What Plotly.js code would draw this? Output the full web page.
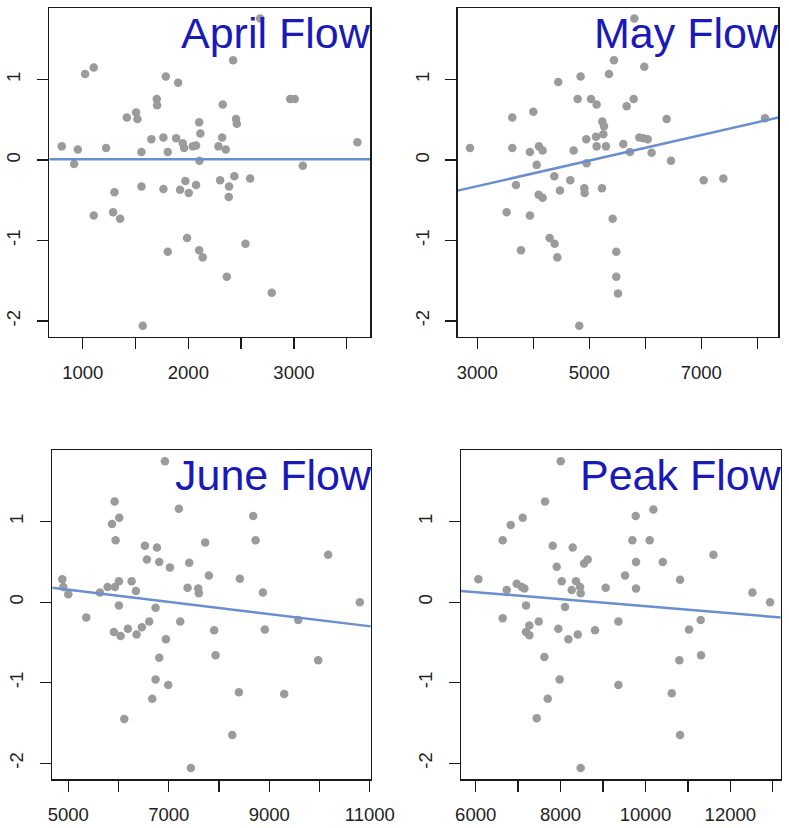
<!DOCTYPE html>
<html>
<head>
<meta charset="utf-8">
<script src="https://cdn.plot.ly/plotly-3.0.1.min.js"></script>
<style>
  html, body { margin: 0; padding: 0; background: #ffffff; }
  #chart { width: 789px; height: 828px; }
</style>
</head>
<body>
<div id="chart"></div>
<script>
// Standardised response against four flow measures (one point per year)

const aprilX = [801, 953, 918, 1022, 1104, 1221, 1104, 1300, 1287, 1354, 1417, 1505, 1518, 1556, 1556, 1568,
  1650, 1701, 1704, 1764, 1764, 1786, 1805, 1805, 1903, 1884, 1922, 1947, 1972, 1960, 2004, 1988, 2042, 2073,
  2073, 2102, 2114, 2105, 2102, 2136, 2326, 2320, 2285, 2354, 2301, 2386, 2383, 2364, 2424, 2452, 2459, 2436,
  2585, 2541, 2790, 2964, 3008, 3084, 3601, 2680];
const aprilY = [0.17, 0.13, -0.05, 1.07, 1.15, 0.15, -0.69, -0.40, -0.65, -0.73, 0.53, 0.59, 0.51, 0.10, -0.33, -2.06,
  0.26, 0.76, 0.68, 0.28, -0.36, 1.04, 0.10, -1.14, 0.96, 0.27, -0.37, 0.21, -0.26, 0.15, -0.41, -0.97, 0.17, 0.18,
  -0.31, 0.47, 0.33, -0.01, -1.12, -1.21, 0.69, 0.28, 0.17, 0.13, -0.25, -0.33, -0.46, -1.45, 1.24, 0.51, 0.45, -0.20,
  -0.23, -1.04, -1.65, 0.76, 0.76, -0.07, 0.22, 1.76];

const mayX = [2869, 3625, 3625, 3690, 3524, 3780, 3940, 3940, 4000, 4060, 4101, 4167, 4095, 4167, 4292, 4381, 4429,
  4375, 4446, 4476, 4661, 4720, 4792, 4845, 4821, 4911, 4917, 4946, 4952, 5030, 5131, 5119, 5131, 5232, 5262, 5250,
  5298, 5226, 5351, 5440, 5417, 5482, 5482, 5512, 5607, 5667, 5792, 5804, 5726, 5893, 5964, 6042, 5982, 6113, 6381,
  6458, 7042, 7393, 8137];
const mayY = [0.15, 0.53, 0.15, -0.31, -0.65, -1.12, -0.69, 0.10, 0.60, -0.06, 0.17, 0.12, -0.43, -0.47, -0.97, -1.04,
  -1.21, -0.20, 0.97, -0.38, -0.25, 0.12, 0.76, 1.04, -2.06, -0.35, -0.41, 0.26, -0.04, 0.76, 0.69, 0.29, 0.17, 0.48,
  0.42, 0.32, 0.17, -0.35, 1.07, 1.24, -0.73, -1.14, -1.45, -1.66, 0.20, 0.67, 0.76, 1.76, 0.10, 0.28, 0.27, 0.26,
  1.16, 0.09, 0.51, -0.01, -0.25, -0.23, 0.52];

const juneX = [4881, 4901, 5000, 5358, 5630, 5782, 5869, 5922, 6015, 5942, 5928, 6008, 6008, 5908, 6041, 6187, 6114,
  6260, 6346, 6359, 6465, 6611, 6525, 6565, 6764, 6810, 6737, 6810, 6737, 6671, 6923, 7022, 6943, 6989, 7201, 7228,
  7407, 7374, 7440, 7586, 7599, 7725, 7798, 7904, 7931, 8263, 8395, 8415, 8680, 8727, 8873, 8912, 9297, 9575, 9973,
  10172, 10802];
const juneY = [0.285, 0.19, 0.10, -0.19, 0.12, 0.19, 0.97, 1.25, 1.05, 0.77, 0.19, 0.26, -0.04, -0.37, -0.42, -0.33,
  -1.45, 0.26, 0.14, -0.40, -0.31, -0.24, 0.70, 0.53, 0.68, 0.50, -0.07, -0.69, -0.96, -1.20, 1.75, 0.43, -0.46, -1.03,
  1.16, -0.24, 0.49, 0.18, -2.06, 0.17, 0.11, 0.74, 0.33, -0.35, -0.66, -1.65, -1.12, 0.29, 1.07, 0.77, 0.12, -0.34,
  -1.14, -0.22, -0.72, 0.59, 0.00];

const peakX = [6063, 6636, 6636, 6731, 6825, 6966, 7108, 7084, 7147, 7186, 7265, 7186, 7265, 7485, 7437, 7634, 7618,
  7697, 7815, 7909, 7948, 7979, 8003, 8027, 8105, 8184, 8286, 8262, 8364, 8404, 8459, 8474, 8474, 8553, 8639, 8812,
  9063, 9362, 9362, 9519, 9692, 9770, 9778, 9778, 10100, 10187, 10407, 10619, 10815, 10799, 10815, 11027, 11302,
  11310, 11601, 12520, 12936];
const peakY = [0.285, 0.77, -0.20, 0.15, 0.96, 0.23, 1.05, 0.19, 0.17, -0.04, -0.29, -0.37, -0.41, -0.24, -1.44, 1.25,
  -0.68, -1.20, 0.70, 0.44, -0.33, -0.96, 1.75, 0.26, -0.06, -0.46, 0.68, 0.15, 0.26, -0.40, 0.19, 0.11, -2.06, 0.48,
  0.53, -0.35, 0.18, -0.24, -1.03, 0.33, 0.77, 1.07, 0.50, 0.17, 0.77, 1.15, 0.50, -1.13, 0.28, -0.72, -1.65, -0.34,
  -0.22, -0.66, 0.59, 0.12, 0.00];

// Least-squares fit lines: [intercept, slope]
const aprilFit = [0.01, 0];
const mayFit = [-0.801, 1.589e-4];
const juneFit = [0.534, -7.57e-5];
const peakFit = [0.388, -4.38e-5];

const panelTitles = ['April Flow', 'May Flow', 'June Flow', 'Peak Flow'];

// Axis ticks: every tick is drawn, only some carry a label
const aprilTicks = [1000, 1500, 2000, 2500, 3000, 3500];
const aprilLabels = ['1000', '', '2000', '', '3000', ''];
const mayTicks = [3000, 4000, 5000, 6000, 7000, 8000];
const mayLabels = ['3000', '', '5000', '', '7000', ''];
const juneTicks = [5000, 6000, 7000, 8000, 9000, 10000, 11000];
const juneLabels = ['5000', '', '7000', '', '9000', '', '11000'];
const peakTicks = [6000, 7000, 8000, 9000, 10000, 11000, 12000, 13000];
const peakLabels = ['6000', '', '8000', '', '10000', '', '12000', ''];
const yTicks = [-2, -1, 0, 1];
const yLabels = ['-2', '-1', '0', '1'];

// Panel geometry
const xRanges = [[683, 3721], [2649, 8375], [4682, 11021], [5654, 13187]];
const yRange = [-2.2, 1.89];
const xDomains = [[0.0625, 0.469], [0.580, 0.9865], [0.0663, 0.470], [0.5843, 0.9895]];
const yDomains = [[0.593, 0.9903], [0.593, 0.9903], [0.0588, 0.4565], [0.0588, 0.4565]];

const pointColor = '#9b9b9b';
const lineColor = '#6a8ed2';
const titleColor = '#1a1ab8';
const fontFamily = 'Liberation Sans, Arial, sans-serif';

const panels = [
  { x: aprilX, y: aprilY, fit: aprilFit, ticks: aprilTicks, labels: aprilLabels },
  { x: mayX, y: mayY, fit: mayFit, ticks: mayTicks, labels: mayLabels },
  { x: juneX, y: juneY, fit: juneFit, ticks: juneTicks, labels: juneLabels },
  { x: peakX, y: peakY, fit: peakFit, ticks: peakTicks, labels: peakLabels }
];

const traces = [];
const layout = {
  width: 789,
  height: 828,
  margin: { l: 0, r: 0, t: 0, b: 0 },
  paper_bgcolor: '#ffffff',
  plot_bgcolor: '#ffffff',
  showlegend: false,
  font: { family: fontFamily, color: '#222222' },
  annotations: []
};

panels.forEach((p, i) => {
  const n = i === 0 ? '' : String(i + 1);
  const xa = 'x' + n, ya = 'y' + n;

  traces.push({
    type: 'scatter', mode: 'markers', x: p.x, y: p.y, xaxis: xa, yaxis: ya,
    marker: { color: pointColor, size: 8.5, line: { width: 0 } },
    hoverinfo: 'x+y'
  });

  // Fit line spans the whole plotting region
  const xr = xRanges[i];
  traces.push({
    type: 'scatter', mode: 'lines', x: xr, y: xr.map(v => p.fit[0] + p.fit[1] * v),
    xaxis: xa, yaxis: ya, line: { color: lineColor, width: 2.5 }, hoverinfo: 'skip'
  });

  const common = {
    showline: true, mirror: true, linecolor: '#1a1a1a', linewidth: 1.5,
    ticks: 'outside', ticklen: 11, tickwidth: 1.3, tickcolor: '#1a1a1a',
    showgrid: false, zeroline: false, automargin: false, tickmode: 'array',
    tickfont: { family: fontFamily, size: 18.5, color: '#222222' }
  };

  layout['xaxis' + n] = Object.assign({}, common, {
    domain: xDomains[i], range: xr, anchor: ya,
    tickvals: p.ticks, ticktext: p.labels, ticklabelstandoff: 7
  });
  layout['yaxis' + n] = Object.assign({}, common, {
    domain: yDomains[i], range: yRange, anchor: xa,
    tickvals: yTicks, ticktext: yLabels, tickangle: -90, ticklabelstandoff: 9
  });

  layout.annotations.push({
    xref: xa + ' domain', yref: ya + ' domain', x: 1, y: 1,
    xanchor: 'right', yanchor: 'top', xshift: 3, yshift: 1, showarrow: false,
    text: panelTitles[i],
    font: { family: fontFamily, size: 43, color: titleColor }
  });
});

Plotly.newPlot('chart', traces, layout, { staticPlot: true });
</script>
</body>
</html>
